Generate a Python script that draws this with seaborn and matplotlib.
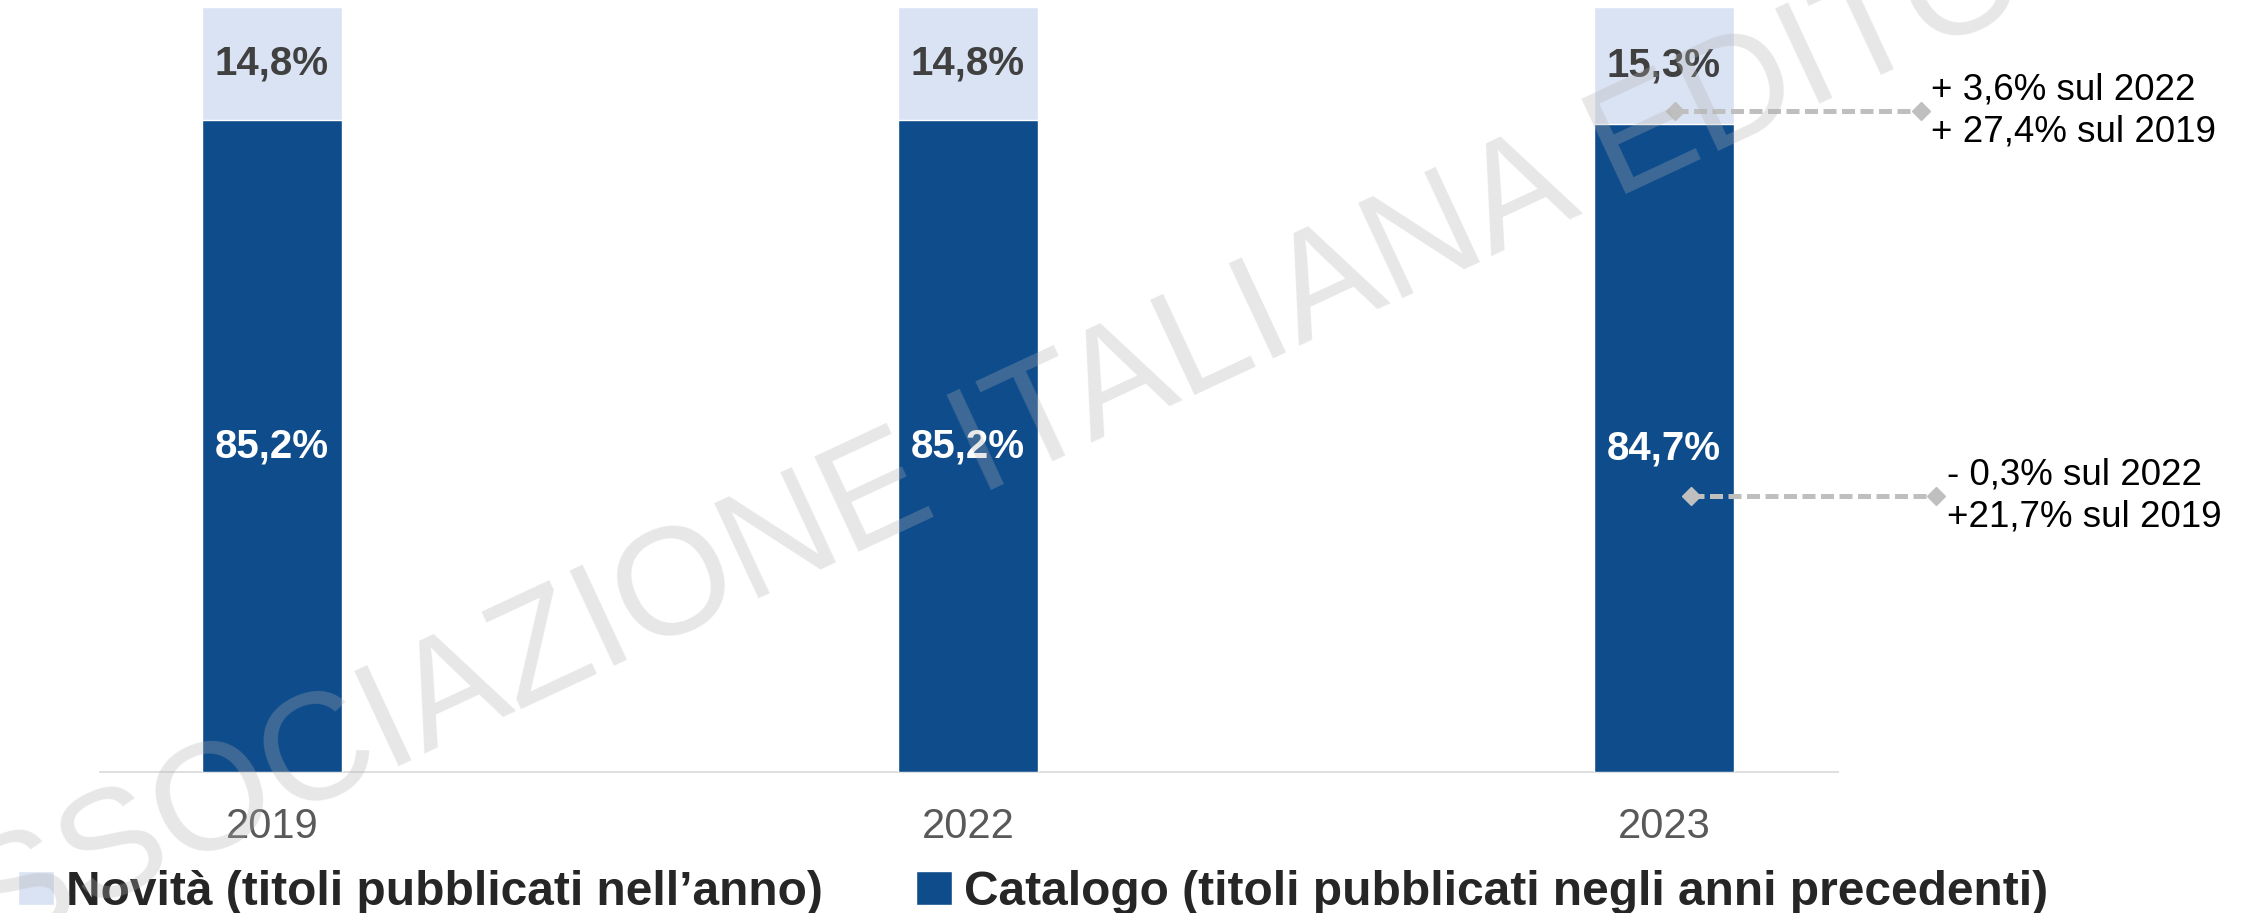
import matplotlib
matplotlib.use("Agg")
import matplotlib.pyplot as plt
from matplotlib.patches import Patch
import seaborn as sns
import pandas as pd

# data
anni = ["2019", "2022", "2023"]
novita = [14.8, 14.8, 15.3]
catalogo = [85.2, 85.2, 84.7]
legenda = ["Novità (titoli pubblicati nell’anno)",
           "Catalogo (titoli pubblicati negli anni precedenti)"]
note_2023 = ["+ 3,6% sul 2022\n+ 27,4% sul 2019",
             "- 0,3% sul 2022\n+21,7% sul 2019"]

col_novita = "#DAE3F3"
col_catalogo = "#0E4C8C"

sns.set_theme(style="white")
plt.rcParams["font.family"] = ["Liberation Sans", "DejaVu Sans"]

df = pd.DataFrame({"anno": anni, "novita": novita, "catalogo": catalogo})
df["totale"] = df["novita"] + df["catalogo"]

fig = plt.figure(figsize=(22.45, 9.13), dpi=100)
ax = fig.add_axes([100 / 2245, 1 - 772 / 913, 1738 / 2245, 765 / 913])

# stacked bars: total in light colour, catalogo on top in dark
sns.barplot(data=df, x="anno", y="totale", color=col_novita, saturation=1,
            width=0.2, ax=ax, zorder=2)
sns.barplot(data=df, x="anno", y="catalogo", color=col_catalogo, saturation=1,
            width=0.2, ax=ax, zorder=3)

ax.set_xlim(-0.247, 2.25)
ax.set_ylim(0, 100)
ax.set_xlabel("")
ax.set_ylabel("")
ax.set_yticks([])
for s in ["top", "left", "right"]:
    ax.spines[s].set_visible(False)
ax.spines["bottom"].set_color("#D9D9D9")
ax.spines["bottom"].set_linewidth(1.2)
ax.tick_params(axis="x", length=0, pad=25, labelsize=30, labelcolor="#595959")

def fmt(v):
    return f"{v:.1f}%".replace(".", ",")

for i, row in df.iterrows():
    ax.text(i, row["catalogo"] + row["novita"] / 2, fmt(row["novita"]),
            ha="center", va="center", fontsize=29, fontweight="bold",
            color="#404040", zorder=5)
    ax.text(i, row["catalogo"] / 2, fmt(row["catalogo"]),
            ha="center", va="center", fontsize=29, fontweight="bold",
            color="white", zorder=5)

# variation notes for 2023
note_pos = [(2.016, 2.369, 86.4), (2.039, 2.391, 36.1)]
for (x0, x1, y), txt in zip(note_pos, note_2023):
    ax.plot([x0, x1], [y, y], color="#BFBFBF", lw=3.6, dashes=(2.6, 1.1),
            marker="D", markersize=9, zorder=6, clip_on=False)
    ax.text(x1 + 0.015, y, txt, ha="left", va="center", fontsize=26.5,
            color="black", linespacing=1.25, clip_on=False)

handles = [Patch(facecolor=col_novita), Patch(facecolor=col_catalogo)]
fig.legend(handles, legenda, ncol=2, loc="center left",
           bbox_to_anchor=(18 / 2245, 1 - 892 / 913), frameon=False,
           prop={"size": 34.5, "weight": "bold"}, handlelength=0.75,
           handleheight=0.73, handletextpad=0.25, columnspacing=1.94,
           borderpad=0, borderaxespad=0)

# watermark
fig.text(-98 / 2245, 1 - 998 / 913, "ASSOCIAZIONE ITALIANA EDITORI",
         rotation=25, rotation_mode="anchor", ha="left", va="baseline",
         fontsize=110, color="#B0B0B0", alpha=0.3, zorder=10)

fig.savefig("out.png", dpi=100)
